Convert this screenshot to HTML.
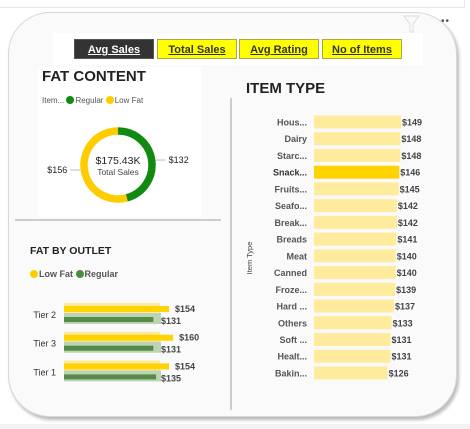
<!DOCTYPE html>
<html><head><meta charset="utf-8"><style>
body{margin:0;width:470px;height:429px;background:#fff;overflow:hidden;font-family:"Liberation Sans",sans-serif;position:relative}
.abs{position:absolute}
.btn{position:absolute;top:39px;height:20px;width:80px;border:1px solid #a8a84a;background:#ffff00;color:#333;font-weight:bold;font-size:11px;text-align:center;line-height:20px;text-decoration:underline;box-sizing:border-box}
.dot{display:inline-block;border-radius:50%;vertical-align:-1px;margin-right:1px}
</style></head><body>
<div class="abs" style="left:-2px;top:-10px;width:465px;height:16px;border:1px solid #e6e6e6;background:#fff"></div>
<div class="abs" style="left:0;top:424px;width:470px;height:5px;background:#f2f2f2"></div>
<div class="abs" style="left:8px;top:12px;width:447px;height:403px;border-radius:42px;background:#fafafa;border:1px solid #d8d8d8;box-shadow:2px 3px 3px #bbb"></div>
<svg class="abs" style="left:402px;top:14px" width="20" height="20"><path d="M2 2 H17 L11 10 V18 H8 V10 Z" fill="none" stroke="#ddd"/></svg>
<div class="abs" style="left:441px;top:16px;font-size:10px;color:#555;letter-spacing:1px">••</div>
<div class="abs" style="left:53px;top:33px;width:370px;height:32px;background:#fff"></div>
<div class="btn" style="left:74px;background:#333;color:#fff;border-color:#555">Avg Sales</div>
<div class="btn" style="left:157px">Total Sales</div>
<div class="btn" style="left:239px">Avg Rating</div>
<div class="btn" style="left:322px">No of Items</div>

<div class="abs" style="left:38px;top:67px;width:163px;height:150px;background:#fff"></div>
<div class="abs" style="left:42px;top:68px;font-size:15px;font-weight:bold;color:#222">FAT CONTENT</div>
<div class="abs" style="left:42px;top:96px;font-size:8px;color:#555;white-space:nowrap">Item... <span class="dot" style="background:#108a10;width:8px;height:8px"></span>Regular <span class="dot" style="background:#ffcc00;width:8px;height:8px"></span>Low Fat</div>
<svg class="abs" id="donut" style="left:38px;top:110px" width="163" height="107"></svg>

<div class="abs" style="left:15px;top:219px;width:206px;height:2px;background:#ccc"></div>
<div class="abs" style="left:230px;top:98px;width:2px;height:312px;background:#ccc"></div>

<div class="abs" style="left:30px;top:245px;font-size:10.5px;font-weight:bold;color:#222">FAT BY OUTLET</div>
<div class="abs" style="left:30px;top:269px;font-size:9px;font-weight:bold;color:#555;white-space:nowrap"><span class="dot" style="background:#ffcc00;width:8px;height:8px"></span>Low Fat <span class="dot" style="background:#4e8a3e;width:8px;height:8px"></span>Regular</div>
<svg class="abs" id="outlet" style="left:0;top:290px" width="225" height="100"></svg>

<div class="abs" style="left:246px;top:80px;font-size:15px;font-weight:bold;color:#222">ITEM TYPE</div>
<svg class="abs" id="items" style="left:238px;top:110px" width="200" height="280"></svg>

<script>
const NS="http://www.w3.org/2000/svg";
function mk(p,t,a){const e=document.createElementNS(NS,t);for(const k in a)e.setAttribute(k,a[k]);p.appendChild(e);return e;}
// donut
const fatCats=["Regular","Low Fat"];
const fatValues=[132,156];
const fatColors=["#108a10","#ffcc00"];
const d=document.getElementById('donut');
const cx=80,cy=55,r=34;let a0=0;const tot=fatValues.reduce((s,v)=>s+v,0);
fatValues.forEach((v,i)=>{const a1=a0+v/tot*2*Math.PI;
 const x0=cx+r*Math.sin(a0),y0=cy-r*Math.cos(a0),x1=cx+r*Math.sin(a1),y1=cy-r*Math.cos(a1);
 const p=mk(d,'path',{d:`M${x0} ${y0} A${r} ${r} 0 ${a1-a0>Math.PI?1:0} 1 ${x1} ${y1}`,fill:'none',stroke:fatColors[i],'stroke-width':7.5});
 
 
 const mid=(a0+a1)/2,side=Math.sin(mid)>0?1:-1;
 const lx=cx+(r+4)*Math.sin(mid),ly=cy-(r+4)*Math.cos(mid);
 mk(d,'line',{x1:lx,y1:ly,x2:lx+side*10,y2:ly,stroke:'#bbb'});
 const t=mk(d,'text',{x:lx+side*13,y:ly+3,'font-size':9,fill:'#222','text-anchor':side>0?'start':'end'});t.textContent='$'+v;
 
 
 a0=a1;});
let t1=mk(d,'text',{x:cx,y:cy-1,'text-anchor':'middle','font-size':10.5,fill:'#222'});t1.textContent='$175.43K';


let t2=mk(d,'text',{x:cx,y:cy+10,'text-anchor':'middle','font-size':8.5,fill:'#444'});t2.textContent='Total Sales';



// outlet
const tiers=["Tier 2","Tier 3","Tier 1"];
const lowFat=[154,160,154];
const regular=[131,131,135];
const o=document.getElementById('outlet');
const ox=64,ok=0.682;const sx=v=>v*ok;
tiers.forEach((tn,i)=>{const y0=13+i*28.7;
 let r;
 r=mk(o,'rect',{x:ox,y:y0,width:96,height:10,fill:'#fdeaa0'});
 r=mk(o,'rect',{x:ox,y:y0+10,width:97,height:11,fill:'#bcd3b4'});
 r=mk(o,'rect',{x:ox,y:y0+3,width:sx(lowFat[i]),height:6,fill:'#ffd200'});
 r=mk(o,'rect',{x:ox,y:y0+14,width:sx(regular[i]),height:5,fill:'#558a48'});
 let t=mk(o,'text',{x:56,y:y0+15,'text-anchor':'end','font-size':9,fill:'#333'});t.textContent=tn;
 t=mk(o,'text',{x:ox+sx(lowFat[i])+6,y:y0+9,'font-size':9,'font-weight':'bold',fill:'#444'});t.textContent='$'+lowFat[i];
 t=mk(o,'text',{x:ox+Math.max(sx(regular[i]),96)+1,y:y0+21,'font-size':9,'font-weight':'bold',fill:'#444'});t.textContent='$'+regular[i];
});

// items
const itemNames=["Hous...","Dairy","Starc...","Snack...","Fruits...","Seafo...","Break...","Breads","Meat","Canned","Froze...","Hard ...","Others","Soft ...","Healt...","Bakin..."];
const itemValues=[149,148,148,146,145,142,142,141,140,140,139,137,133,131,131,126];
const it=document.getElementById('items');
const bx=76,ik=87/149,step=16.73;
let yt=mk(it,'text',{transform:'translate(14,148) rotate(-90)','text-anchor':'middle','font-size':7.5,fill:'#444'});yt.textContent='Item Type';


itemNames.forEach((n,i)=>{const y=5.5+i*step;const w=itemValues[i]*ik;const hl=i===3;
 const r=mk(it,'rect',{x:bx,y:y,width:w,height:13,fill:hl?'#ffd200':'#feeb9c'});
 
 
 let t=mk(it,'text',{x:69,y:y+10,'text-anchor':'end','font-size':9,'font-weight':'bold',fill:hl?'#333':'#555'});t.textContent=n;
 
 
 t=mk(it,'text',{x:bx+w+1,y:y+10,'font-size':9,'font-weight':'bold',fill:'#444'});t.textContent='$'+itemValues[i];
 
 
});
</script>
</body></html>
